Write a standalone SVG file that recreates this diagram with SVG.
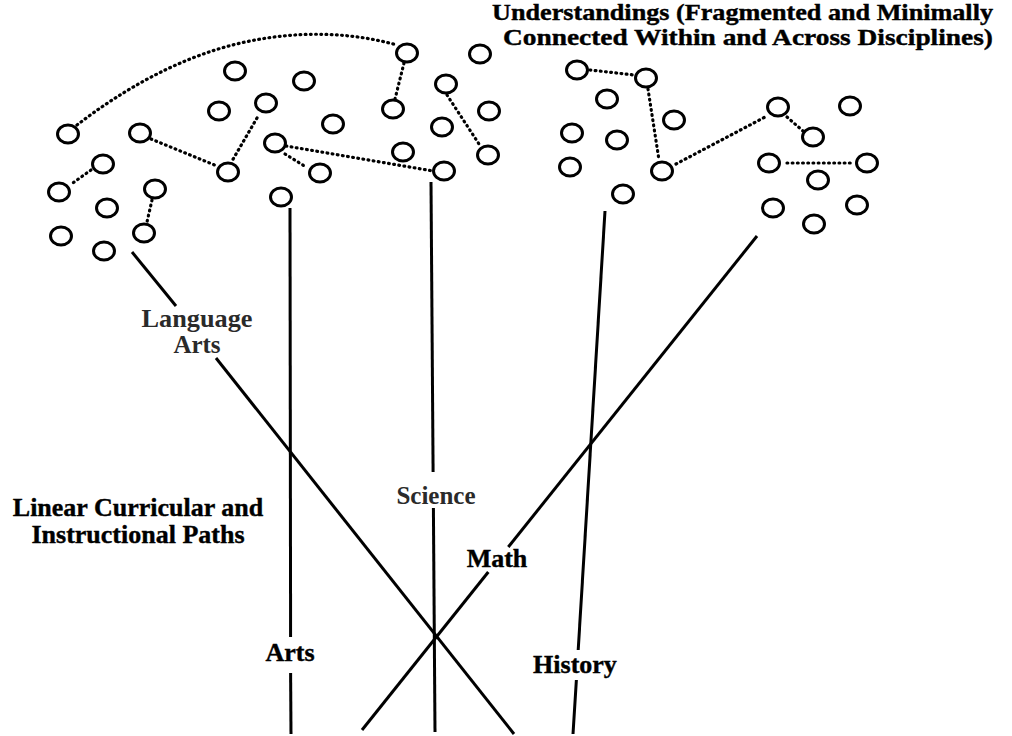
<svg xmlns="http://www.w3.org/2000/svg" width="1012" height="736" viewBox="0 0 1012 736">
<style>
.n ellipse{fill:none;stroke:#000;stroke-width:3}
.dot{fill:none;stroke:#000;stroke-width:3.2;stroke-linecap:round;stroke-dasharray:0.8 4.4}
.path{fill:none;stroke:#000;stroke-width:3}
.t{font-family:"Liberation Serif","Times New Roman",serif;font-weight:bold;font-size:26px;fill:#000;stroke:#000;stroke-width:0.4}
.tt{font-family:"Liberation Serif","Times New Roman",serif;font-weight:bold;font-size:24px;fill:#000;stroke:#000;stroke-width:0.4}
.tl{font-family:"Liberation Serif","Times New Roman",serif;font-weight:bold;font-size:25px;fill:#2a2a2a}
</style>
<rect width="1012" height="736" fill="#fff"/>
<g id="connectors">
<path class="dot" d="M77,125 C120,92 180,55 250,41 C300,31 350,32 397,45"/>
<line class="dot" x1="91" y1="170" x2="70" y2="185"/>
<line class="dot" x1="152" y1="200" x2="147" y2="222"/>
<line class="dot" x1="151" y1="139" x2="217" y2="166"/>
<line class="dot" x1="257" y1="118" x2="232" y2="161"/>
<line class="dot" x1="286" y1="146" x2="433" y2="171"/>
<line class="dot" x1="285" y1="154" x2="306" y2="167"/>
<line class="dot" x1="404" y1="63" x2="395" y2="99"/>
<line class="dot" x1="447" y1="95" x2="479" y2="144"/>
<line class="dot" x1="590" y1="70" x2="634" y2="75"/>
<line class="dot" x1="648" y1="89" x2="659" y2="160"/>
<line class="dot" x1="676" y1="164" x2="767" y2="116"/>
<line class="dot" x1="787" y1="117" x2="803" y2="131"/>
<line class="dot" x1="787" y1="163" x2="854" y2="163"/>
<line class="path" x1="132" y1="252" x2="176" y2="306"/>
<line class="path" x1="216" y1="358" x2="514" y2="734"/>
<line class="path" x1="290" y1="208" x2="290.6" y2="637"/>
<line class="path" x1="290.6" y1="673" x2="291" y2="734"/>
<line class="path" x1="431" y1="182" x2="433.1" y2="472"/>
<line class="path" x1="433.4" y1="508" x2="435" y2="732"/>
<line class="path" x1="757" y1="236" x2="508.3" y2="547"/>
<line class="path" x1="488.3" y1="572" x2="362" y2="730"/>
<line class="path" x1="605" y1="211" x2="578.2" y2="650"/>
<line class="path" x1="576.4" y1="680" x2="573" y2="734"/>
</g>
<g id="nodes" class="n">
<g id="n1"><ellipse cx="68" cy="134" rx="10.5" ry="9"/></g>
<g id="n2"><ellipse cx="103" cy="164" rx="10.5" ry="9"/></g>
<g id="n3"><ellipse cx="59" cy="192" rx="10.5" ry="9"/></g>
<g id="n4"><ellipse cx="107" cy="208" rx="10.5" ry="9"/></g>
<g id="n5"><ellipse cx="61" cy="236" rx="10.5" ry="9"/></g>
<g id="n6"><ellipse cx="104" cy="251" rx="10.5" ry="9"/></g>
<g id="n7"><ellipse cx="155" cy="189" rx="10.5" ry="9"/></g>
<g id="n8"><ellipse cx="144" cy="233" rx="10.5" ry="9"/></g>
<g id="n9"><ellipse cx="140" cy="133" rx="10.5" ry="9"/></g>
<g id="n10"><ellipse cx="235" cy="71" rx="10.5" ry="9"/></g>
<g id="n11"><ellipse cx="304" cy="81" rx="10.5" ry="9"/></g>
<g id="n12"><ellipse cx="219" cy="111" rx="10.5" ry="9"/></g>
<g id="n13"><ellipse cx="266" cy="103" rx="10.5" ry="9"/></g>
<g id="n14"><ellipse cx="333" cy="124" rx="10.5" ry="9"/></g>
<g id="n15"><ellipse cx="275" cy="143" rx="10.5" ry="9"/></g>
<g id="n16"><ellipse cx="228" cy="172" rx="10.5" ry="9"/></g>
<g id="n17"><ellipse cx="320" cy="173" rx="10.5" ry="9"/></g>
<g id="n18"><ellipse cx="281" cy="197" rx="10.5" ry="9"/></g>
<g id="n19"><ellipse cx="407" cy="53" rx="10.5" ry="9"/></g>
<g id="n20"><ellipse cx="480" cy="54" rx="10.5" ry="9"/></g>
<g id="n21"><ellipse cx="446" cy="84" rx="10.5" ry="9"/></g>
<g id="n22"><ellipse cx="393" cy="109" rx="10.5" ry="9"/></g>
<g id="n23"><ellipse cx="489" cy="111" rx="10.5" ry="9"/></g>
<g id="n24"><ellipse cx="442" cy="127" rx="10.5" ry="9"/></g>
<g id="n25"><ellipse cx="403" cy="152" rx="10.5" ry="9"/></g>
<g id="n26"><ellipse cx="488" cy="155" rx="10.5" ry="9"/></g>
<g id="n27"><ellipse cx="444" cy="171" rx="10.5" ry="9"/></g>
<g id="n28"><ellipse cx="577" cy="70" rx="10.5" ry="9"/></g>
<g id="n29"><ellipse cx="646" cy="78" rx="10.5" ry="9"/></g>
<g id="n30"><ellipse cx="607" cy="99" rx="10.5" ry="9"/></g>
<g id="n31"><ellipse cx="674" cy="120" rx="10.5" ry="9"/></g>
<g id="n32"><ellipse cx="572" cy="133" rx="10.5" ry="9"/></g>
<g id="n33"><ellipse cx="617" cy="140" rx="10.5" ry="9"/></g>
<g id="n34"><ellipse cx="570" cy="167" rx="10.5" ry="9"/></g>
<g id="n35"><ellipse cx="662" cy="171" rx="10.5" ry="9"/></g>
<g id="n36"><ellipse cx="623" cy="194" rx="10.5" ry="9"/></g>
<g id="n37"><ellipse cx="778" cy="107" rx="10.5" ry="9"/></g>
<g id="n38"><ellipse cx="850" cy="106" rx="10.5" ry="9"/></g>
<g id="n39"><ellipse cx="813" cy="137" rx="10.5" ry="9"/></g>
<g id="n40"><ellipse cx="769" cy="163" rx="10.5" ry="9"/></g>
<g id="n41"><ellipse cx="867" cy="163" rx="10.5" ry="9"/></g>
<g id="n42"><ellipse cx="818" cy="180" rx="10.5" ry="9"/></g>
<g id="n43"><ellipse cx="773" cy="208" rx="10.5" ry="9"/></g>
<g id="n44"><ellipse cx="857" cy="205" rx="10.5" ry="9"/></g>
<g id="n45"><ellipse cx="814" cy="224" rx="10.5" ry="9"/></g>
</g>
<g id="labels">
<text class="tt" x="492" y="20" textLength="501" lengthAdjust="spacingAndGlyphs">Understandings (Fragmented and Minimally</text>
<text class="tt" x="503" y="45" textLength="490" lengthAdjust="spacingAndGlyphs">Connected Within and Across Disciplines)</text>
<text class="t" x="138" y="516" text-anchor="middle">Linear Curricular and</text>
<text class="t" x="138" y="543" text-anchor="middle">Instructional Paths</text>
<text class="tl" x="197" y="327" text-anchor="middle" textLength="111" lengthAdjust="spacingAndGlyphs">Language</text>
<text class="tl" x="197" y="353" text-anchor="middle">Arts</text>
<text class="tl" x="436" y="504" text-anchor="middle">Science</text>
<text class="t" x="497" y="567" text-anchor="middle">Math</text>
<text class="t" x="290" y="661" text-anchor="middle">Arts</text>
<text class="t" x="575" y="673" text-anchor="middle">History</text>
</g>
</svg>
